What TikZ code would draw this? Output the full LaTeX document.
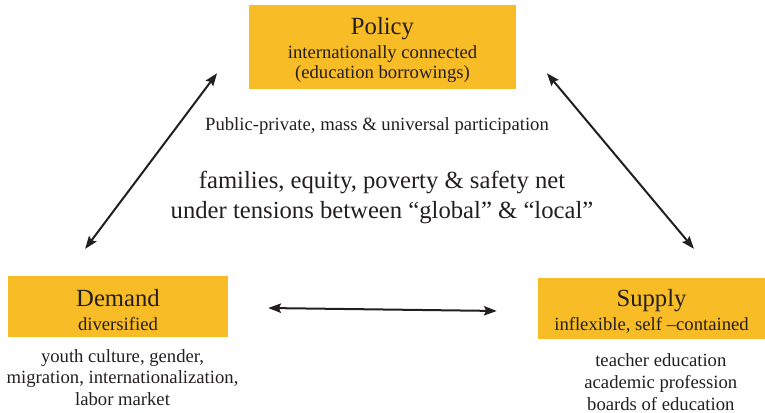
\documentclass[tikz,border=0pt]{standalone}
\usepackage{fontspec}
\setmainfont{Liberation Serif}
\usetikzlibrary{shapes,arrows,arrows.meta,positioning}
\definecolor{boxyellow}{RGB}{247,188,38}
\definecolor{ink}{RGB}{35,31,32}
\tikzstyle{Box} = [fill=boxyellow, rectangle, align=center, text=ink, inner sep=0pt, font=\fontsize{14}{15.4}\selectfont]
\tikzstyle{Note} = [align=center, text=ink, inner sep=0pt]
\tikzstyle{Link} = [{Stealth[length=9.5pt,width=7pt,inset=1.5pt]}-{Stealth[length=9.5pt,width=7pt,inset=1.5pt]}, line width=1.5pt, draw=ink]
\newcommand{\Head}[1]{{\fontsize{18.5}{20}\selectfont\rule{0pt}{17.5pt}#1}\\[2.6pt]}

\begin{document}
\begin{tikzpicture}[x=0.75pt, y=-0.75pt]
    \useasboundingbox (0,0) rectangle (765,413);
    \node[Box, minimum width=200.25pt, minimum height=63pt] (policy) at (382.5,47)
        {\Head{Policy}internationally connected\\(education borrowings)};
    \node[Box, minimum width=165pt, minimum height=45.75pt] (demand) at (118,306.5)
        {\Head{Demand}diversified};
    \node[Box, minimum width=170.25pt, minimum height=45.75pt] (supply) at (651.5,308.5)
        {\Head{Supply}inflexible, self --contained};
    \node[Note, font=\fontsize{14}{16}\selectfont] (demandfactors) [below=9pt of demand, xshift=3.4pt]
        {youth culture, gender,\\migration, internationalization,\\labor market};
    \node[Note, font=\fontsize{14}{16.5}\selectfont] (supplyfactors) [below=10.5pt of supply, xshift=7pt]
        {teacher education\\academic profession\\boards of education};
    \node[Note, font=\fontsize{14}{16}\selectfont, anchor=base] (participation) at (377,131)
        {Public-private, mass \& universal participation};
    \node[Note, font=\fontsize{18.5}{22.5}\selectfont] (tensions) at (382,197)
        {families, equity, poverty \& safety net\\under tensions between ``global'' \& ``local''};
    \draw[Link, shorten <=25.2pt, shorten >=-15pt]
        ([xshift=-39.75pt]demand.north) -- ([xshift=-133.1pt]policy.south);
    \draw[Link, shorten <=28.3pt, shorten >=-15.7pt]
        ([xshift=50pt]supply.north) -- ([xshift=133.4pt]policy.south);
    \draw[Link, shorten <=30pt, shorten >=30.75pt]
        ([yshift=-0.75pt]demand.east) -- ([yshift=-2.25pt]supply.west);
\end{tikzpicture}
\end{document}
